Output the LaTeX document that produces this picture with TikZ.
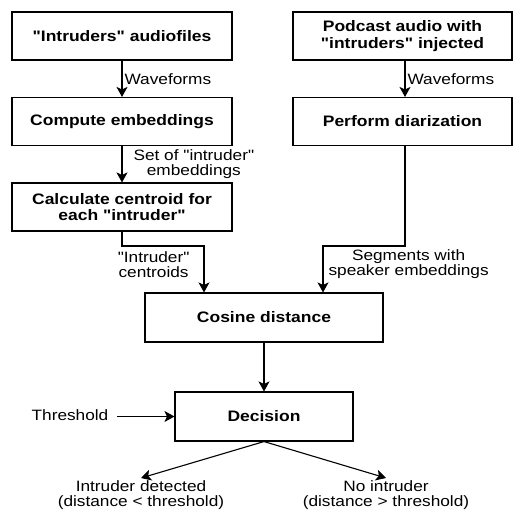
\documentclass[tikz,border=0pt]{standalone}
\usepackage{fontspec}
\setmainfont{Liberation Sans}[FakeStretch=1.15, Ligatures=TeXOff]
\usetikzlibrary{arrows.meta}

\tikzset{
	stage/.style={draw, line width=1.1pt, minimum width=220pt, minimum height=48pt, align=center, inner sep=2pt, font=\bfseries\fontsize{15.2}{16.5}\selectfont},
	lbl/.style={align=center, inner sep=2pt, font=\fontsize{15}{15}\selectfont},
	flow/.style={line width=1.1pt, -{Stealth[length=10pt,width=11pt,inset=2.5pt]}}
}

\begin{document}
\begin{tikzpicture}[x=1pt,y=-1pt]
	\useasboundingbox (0,0) rectangle (513,512);
	
	% left column
	\node[stage] (intr) at (122,36) {"Intruders" audiofiles};
	\node[stage] (comp) at (122,121.5) {Compute embeddings};
	\node[stage] (cent) at (122,207) {Calculate centroid for\\each "intruder"};
	
	% right column
	\node[stage, minimum width=219pt] (podc) at (402.5,36) {Podcast audio with\\"intruders" injected};
	\node[stage, minimum width=219pt] (diar) at (402.5,121.5) {Perform diarization};
	
	% bottom
	\node[stage, minimum width=238pt, minimum height=49pt] (cos) at (264,317.5) {Cosine distance};
	\node[stage, minimum width=178pt, minimum height=49pt] (dec) at (264,416.5) {Decision};
	\node[lbl] (thr) at (70,415) {Threshold};
	\node[lbl, anchor=north] (det) at (141,478) {Intruder detected\\(distance < threshold)};
	\node[lbl, anchor=north] (noi) at (386,478) {No intruder\\(distance > threshold)};
	
	\coordinate (lj) at (204,246);
	\coordinate (rj) at (323,246);
	\coordinate (tj) at (117,416.5);
	
	\draw[flow] (intr) -- node[lbl, right] {Waveforms} (comp);
	\draw[flow] (comp) -- node[lbl, right, xshift=9pt] {Set of "intruder"\\embeddings} (cent);
	\draw[flow] (podc.south -| 405,0) -- node[lbl, right] {Waveforms} (diar.north -| 405,0);
	\draw[flow] (cent.south) |- (lj) -- node[lbl, left, xshift=-12pt, pos=0.4] {"Intruder"\\centroids} (lj |- cos.north);
	\draw[flow] (diar.south -| 405,0) |- (rj) -- node[lbl, right, xshift=3pt, pos=0.4] {Segments with\\speaker embeddings} (rj |- cos.north);
	\draw[flow] (cos) -- (dec);
	\draw[flow] (tj) -- (dec.west);
	\draw[flow] (dec.south) -- (det.north);
	\draw[flow] (dec.south) -- (noi.north);
\end{tikzpicture}
\end{document}
